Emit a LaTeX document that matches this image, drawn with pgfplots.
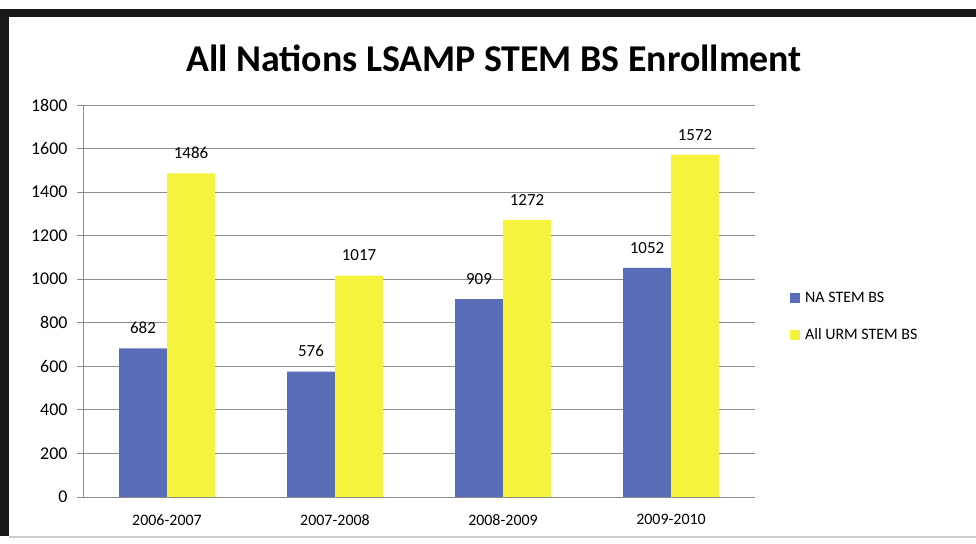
\documentclass[border=0pt]{standalone}
\usepackage{pgfplots}
\pgfplotsset{compat=1.18}
\usepackage{fontspec}
\setmainfont{Carlito}
\definecolor{nablue}{HTML}{5A6DB9}
\definecolor{urmyellow}{HTML}{F6F33C}
\definecolor{gridgray}{HTML}{8C8C8C}
\begin{document}
\begin{tikzpicture}[x=1bp,y=1bp]
  \useasboundingbox (0,0) rectangle (976,544);
  \fill[white] (0,0) rectangle (976,544);
  % scanned frame
  \fill[black!90] (0,527) rectangle (976,535);
  \fill[black!90] (0,8) rectangle (9,535);
  \fill[gray!40] (9,6) rectangle (976,8);
  \node[font=\fontsize{38}{42}\selectfont\bfseries] at (494,486) {All Nations LSAMP STEM BS Enrollment};
  \begin{axis}[
      at={(167bp,47bp)}, anchor=origin,
      scale only axis,
      width=672bp, height=392bp,
      ybar=0pt, bar width=48bp,
      xmin=-0.5, xmax=3.5,
      ymin=0, ymax=1800,
      ytick={0,200,...,1800},
      xtick={0,1,2,3},
      xticklabels={2006-2007,2007-2008,2008-2009,2009-2010},
      major x tick style={draw=none},
      extra x ticks={-0.5,0.5,1.5,2.5,3.5},
      extra x tick labels={},
      extra x tick style={grid=none, tick style={draw=gridgray, thick}, major tick length=6bp},
      tick align=outside,
      major tick length=6bp,
      ymajorgrids,
      grid style={gridgray, thick},
      axis line style={gridgray, thick},
      ytick style={gridgray, thick},
      axis x line*=bottom, axis y line*=left,
      every outer x axis line/.append style={-},
      every outer y axis line/.append style={-},
      separate axis lines,
      /pgf/number format/assume math mode=true,
      /pgf/number format/1000 sep={},
      yticklabel style={xshift=-6bp, font=\fontsize{18}{20}\selectfont},
      xticklabel style={yshift=-8bp, font=\fontsize{16}{18}\selectfont},
      nodes near coords,
      nodes near coords style={font=\fontsize{17}{19}\selectfont, yshift=11bp},
      legend style={at={(1.052,0.46)}, anchor=west, draw=none, fill=none,
        font=\fontsize{16}{18}\selectfont, row sep=20bp, inner xsep=0pt,
        /tikz/every odd column/.append style={column sep=3bp},
        /tikz/every even column/.append style={column sep=0pt}},
      legend cell align=left,
      legend image code/.code={\fill[#1] (0bp,-5bp) rectangle (10bp,5bp);},
    ]
    \addplot[fill=nablue, draw=none] coordinates {(0,682) (1,576) (2,909) (3,1052)};
    \addplot[fill=urmyellow, draw=none] coordinates {(0,1486) (1,1017) (2,1272) (3,1572)};
    \legend{NA STEM BS, All URM STEM BS}
  \end{axis}
\end{tikzpicture}
\end{document}
